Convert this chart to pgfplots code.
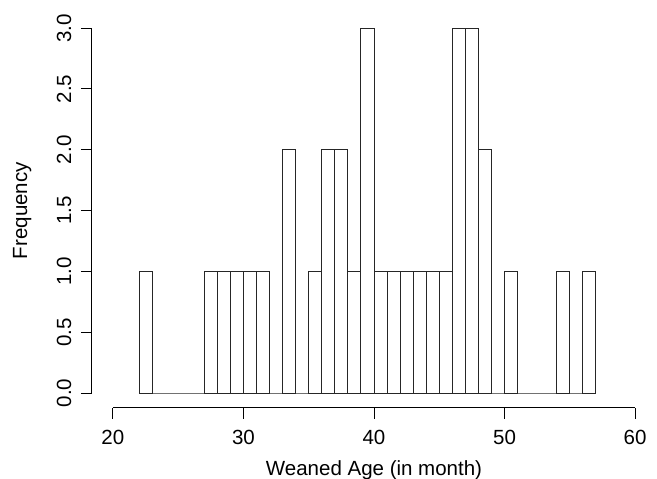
\documentclass[border=0pt]{standalone}
\usepackage{fontspec}
\setmainfont{Liberation Sans}
\usepackage{pgfplots}
\pgfplotsset{compat=1.18}

\begin{document}
\begin{tikzpicture}
% page = 657 x 479 (1pt = 1px); origin at the lower left corner of the plot region
\path[use as bounding box] (-92pt,-71.4pt) rectangle (565pt,407.6pt);
\begin{axis}[
    at={(0,0)}, anchor=south west,
    scale only axis,
    width=564pt, height=394pt,
    xmin=18.4, xmax=61.6,
    ymin=-0.12, ymax=3.12,
    axis x line*=bottom,
    axis y line*=left,
    x axis line style={-, shorten <=20.89pt, shorten >=20.89pt},
    y axis line style={-, shorten <=14.59pt, shorten >=14.59pt},
    axis line style={line width=1pt, black},
    xtick={20,30,40,50,60},
    ytick={0,0.5,1,1.5,2,2.5,3},
    tick align=outside,
    major tick length=11pt,
    tick style={line width=1pt, black},
    minor tick num=0,
    /pgf/number format/assume math mode=true,
    tick label style={font=\fontsize{20.5}{24}\selectfont, inner sep=0pt},
    yticklabel style={rotate=90, anchor=south,
        /pgf/number format/fixed,
        /pgf/number format/fixed zerofill,
        /pgf/number format/precision=1},
    yticklabel shift=9.5pt,
    xticklabel style={anchor=north},
    xticklabel shift=11pt,
    xlabel={Weaned Age (in month)},
    ylabel={Frequency},
    label style={font=\fontsize{20.5}{24}\selectfont, inner sep=0pt},
    xlabel style={at={(axis description cs:0.5,-0.1711)}, anchor=base},
    ylabel style={at={(axis description cs:-0.1152,0.5)}, anchor=base},
    clip=false,
]
\addplot[ybar interval, draw=black!85, fill=white, line width=0.9pt] coordinates {
    (22,1) (23,0) (24,0) (25,0) (26,0) (27,1) (28,1) (29,1) (30,1) (31,1)
    (32,0) (33,2) (34,0) (35,1) (36,2) (37,2) (38,1) (39,3) (40,1) (41,1)
    (42,1) (43,1) (44,1) (45,1) (46,3) (47,3) (48,2) (49,0) (50,1) (51,0)
    (52,0) (53,0) (54,1) (55,0) (56,1) (57,1)
};
\end{axis}
\end{tikzpicture}
\end{document}
